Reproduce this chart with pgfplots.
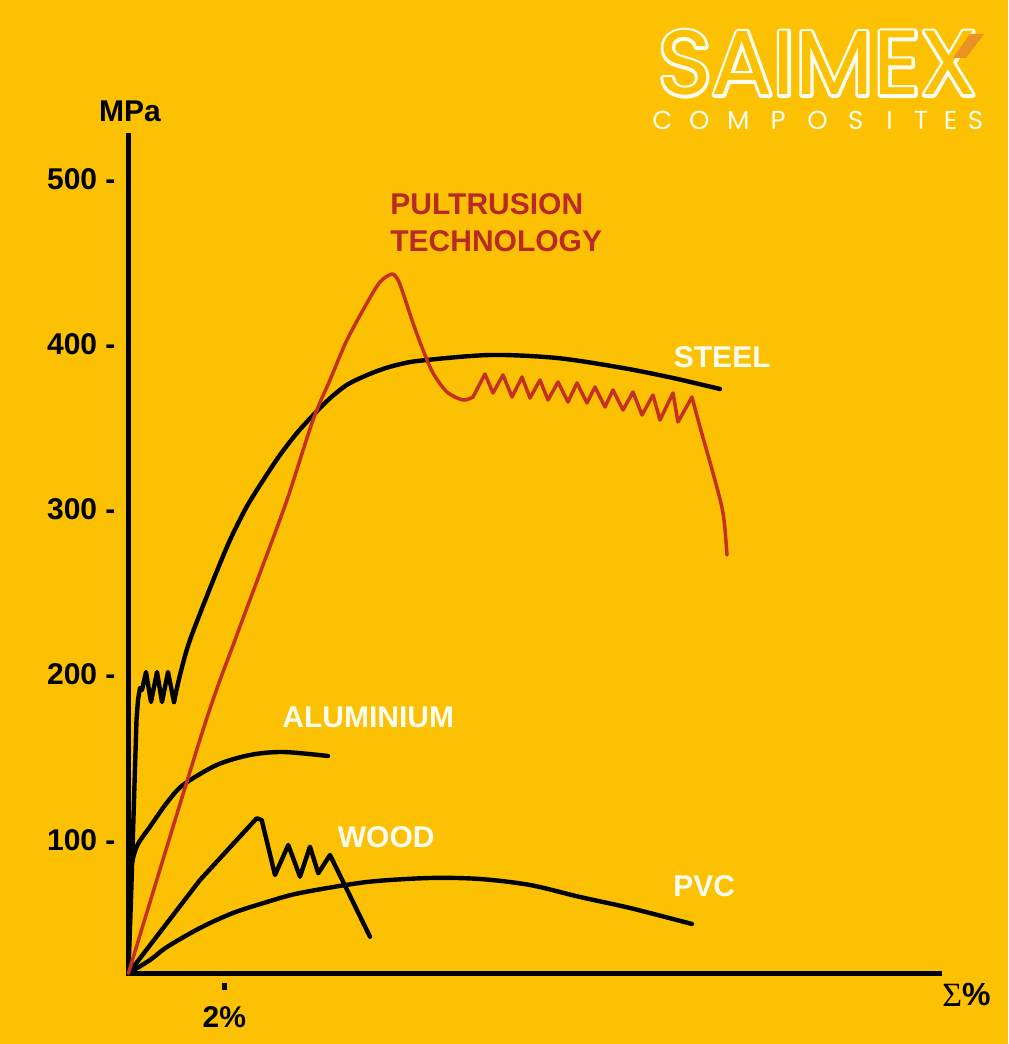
\documentclass[border=0pt]{standalone}
\usepackage{fontspec}
\setmainfont{Liberation Sans}
\newfontfamily\serifsig{Liberation Serif}
\newfontfamily\logofont{Poppins}
\usepackage{pgfplots}
\pgfplotsset{compat=1.18}
\definecolor{bg}{RGB}{252,193,2}
\definecolor{pulred}{RGB}{196,48,34}
\definecolor{pultext}{RGB}{183,42,38}
\definecolor{logoorange}{RGB}{236,146,34}
\definecolor{labwhite}{RGB}{255,253,240}
\newcommand\labfont{\bfseries\fontsize{15}{18}\selectfont}
\newcommand\lb[2]{\makebox[#1pt][c]{#2}}
\begin{document}
\begin{tikzpicture}
\begin{scope}[x=0.5pt,y=-0.5pt,shift={(-128.3,-973.5)}]
  \path[fill=bg, use as bounding box] (0,0) rectangle (1008,1044);
  \node[anchor=base, inner sep=0pt, text=labwhite, font=\logofont\fontsize{45.5}{45.5}\selectfont]
    at (817.5,95) {\special{pdf:literal direct 2 Tr 3 w 1 j}SAIMEX\special{pdf:literal direct 0 Tr 0 j 0.4 w}};
  \node[anchor=base, inner sep=0pt, text=bg, font=\logofont\fontsize{45.5}{45.5}\selectfont]
    at (817.5,95) {SAIMEX};
  \fill[logoorange] (970,34) -- (984,34) -- (966,58) -- (953,58) -- cycle;
  \node[anchor=base west, inner sep=0pt, text=labwhite, font=\logofont\fontsize{13}{13}\selectfont] at (644,130)
    {\lb{18}{C}\lb{19}{O}\lb{20}{M}\lb{19.75}{P}\lb{19.75}{O}\lb{18.25}{S}\lb{15.75}{I}\lb{15.75}{T}\lb{13.75}{E}\lb{11}{S}};
\end{scope}

\begin{axis}[
  at={(0,0)}, anchor=south west,
  scale only axis, width=405.6pt, height=419pt,
  xmin=0, xmax=16.9, ymin=19.06, ymax=526.18,
  axis lines=left,
  axis line style={-, line width=2.5pt, line cap=rect, black},
  every outer x axis line/.append style={-},
  every outer y axis line/.append style={-},
  clip=false,
  major tick length=0pt,
  tick style={draw=none},
  ytick={100,200,300,400,500},
  yticklabels={100 -,200 -,300 -,400 -,500 -},
  yticklabel style={anchor=east, inner sep=0pt, xshift=-6.2pt, font=\labfont},
  xtick={2},
  xticklabels={{\rule{2.5pt}{3.5pt}\\[0.5pt]2\%}},
  xticklabel style={anchor=north, inner sep=0pt, yshift=-4.75pt, align=center, font=\labfont},
]
% PVC
\addplot[black, line width=2.2pt, line cap=round, line join=round, smooth] coordinates {
(0,19.06) (0.452,27.23) (0.806,35.10) (1.494,46.60) (2.181,55.67) (2.890,62.33) (3.577,67.78)
(4.973,74.43) (6.285,76.85) (7.327,76.25) (8.369,72.62) (9.410,65.36) (10.452,58.70) (11.744,49.02)};
% Wood
\addplot[black, line width=2.2pt, line cap=round, line join=round] coordinates {
(0,19.06) (1.494,75.64) (2.675,112.98) (2.779,111.95) (3.056,78.67) (3.333,96.82) (3.577,77.64)
(3.785,95.79) (3.958,79.70) (4.202,90.77) (5.035,41.33)};
% Aluminium
\addplot[black, line width=2.2pt, line cap=round, line join=round, smooth] coordinates {
(0,19.06) (0.025,51.44) (0.046,79.88) (0.175,95.79) (0.452,107.90) (0.800,122.24) (1.140,133.13)
(1.842,145.23) (2.535,151.29) (3.223,153.10) (4.160,150.68)};
% Steel
\addplot[black, line width=2.2pt, line cap=round, line join=round] coordinates {
(0,19.06) (0.056,63.54) (0.119,124.05) (0.171,172.47) (0.202,184.57) (0.244,191.83) (0.285,190.62)
(0.369,201.51) (0.473,183.36) (0.598,201.51) (0.702,183.36) (0.827,201.51) (0.952,183.36)};
\addplot[black, line width=2.2pt, line cap=round, line join=round, smooth] coordinates {
(0.952,183.36) (1.077,199.70) (1.285,220.88) (1.771,257.19) (2.119,281.39) (2.467,301.54)
(2.8125,317.70) (3.160,332.83) (3.508,345.96) (3.854,357.03) (4.202,367.14) (4.550,375.19)
(4.896,380.21) (5.244,384.27) (5.592,387.29) (6.077,389.89) (7.535,393.34) (8.931,391.53)
(10.306,385.48) (11.348,379.42) (12.327,372.77)};
% Pultrusion
\addplot[pulred, line width=1.75pt, line cap=round, line join=round, smooth] coordinates {
(0,19.06) (1.556,166.41) (2.223,220.88) (2.744,261.42) (3.306,305.60) (3.848,354.01) (4.202,378.22)
(4.556,402.42) (4.973,424.81) (5.244,437.52) (5.494,442.36) (5.619,438.73) (5.723,430.86)
(5.931,412.71) (6.140,396.37) (6.348,382.45) (6.640,370.95) (6.973,366.11) (7.181,367.93)};
\addplot[pulred, line width=1.75pt, line cap=round, line join=round] coordinates {
(7.181,367.93) (7.431,381.85) (7.598,370.35) (7.806,381.24) (7.994,367.93) (8.202,380.03)
(8.369,367.32) (8.577,378.22) (8.744,366.11) (8.952,377.01) (9.160,364.90) (9.348,376.40)
(9.556,364.30) (9.723,373.98) (9.931,361.88) (10.098,372.16) (10.306,360.06) (10.515,370.95)
(10.702,357.03) (10.931,369.14) (11.077,354.01) (11.348,370.35) (11.452,352.80) (11.744,367.93)};
\addplot[pulred, line width=1.75pt, line cap=round, line join=round, smooth] coordinates {
(11.744,367.93) (11.910,349.77) (12.181,321.94) (12.390,297.73) (12.473,272.31)};
\end{axis}

\begin{scope}[x=0.5pt,y=-0.5pt,shift={(-128.3,-973.5)}]
  \node[anchor=base west, inner sep=0pt, text=pultext, font=\labfont] at (390,215) {PULTRUSION};
  \node[anchor=base west, inner sep=0pt, text=pultext, font=\labfont] at (390,252) {TECHNOLOGY};
  \node[anchor=base west, inner sep=0pt, text=labwhite, font=\labfont] at (673.5,368) {STEEL};
  \node[anchor=base west, inner sep=0pt, text=labwhite, font=\labfont] at (282,728) {ALUMINIUM};
  \node[anchor=base west, inner sep=0pt, text=labwhite, font=\labfont] at (337.5,848) {WOOD};
  \node[anchor=base west, inner sep=0pt, text=labwhite, font=\labfont] at (673,897) {PVC};
  \node[anchor=base, inner sep=0pt, font=\labfont] at (130,122) {MPa};
  \node[anchor=base west, inner sep=0pt] at (942,1006) {{\serifsig\fontsize{17}{17}\selectfont Σ}{\bfseries\fontsize{16}{16}\selectfont\%}};
\end{scope}
\end{tikzpicture}
\end{document}
